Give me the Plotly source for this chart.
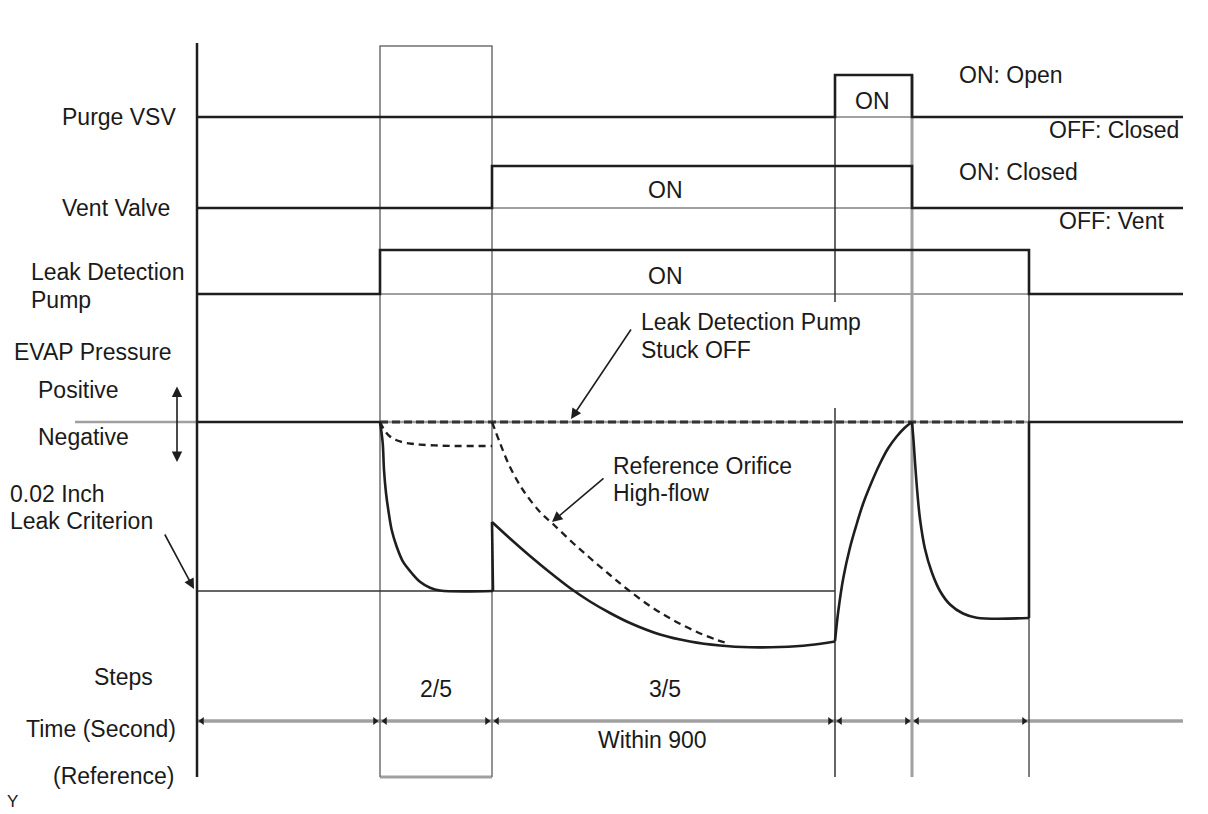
import plotly.graph_objects as go

# ---------------- data (diagram units: time along x, signal level along y) ----------------
t_marks = [197, 380, 492, 835, 912, 1029, 1183]   # start, pump on, vent on, purge on, purge off, pump off, end

purge_t = [197, 835, 835, 912, 912, 1183]
purge_state = [0, 0, 1, 1, 0, 0]
vent_t = [197, 492, 492, 912, 912, 1183]
vent_state = [0, 0, 1, 1, 0, 0]
pump_t = [197, 380, 380, 1029, 1029, 1183]
pump_state = [0, 0, 1, 1, 0, 0]

row_base = {"purge": 117, "vent": 208, "pump": 294}
row_high = {"purge": 75, "vent": 166, "pump": 250}

p_zero = 422          # EVAP pressure 0 level
p_criterion = 591     # 0.02 inch leak criterion level

# EVAP pressure, solid (normal operation)
p1_t = [380, 382.7, 384, 386, 388.3, 391.7, 396.7, 403, 411.7, 420, 430, 440, 493]
p1_v = [422, 443, 470, 493, 510, 530, 546.7, 561.7, 573, 581.7, 587.7, 590.5, 591]
p2_t = [492, 510, 530, 550, 570, 590, 610, 630, 660, 690, 720, 750, 780, 810, 835]
p2_v = [522, 538.5, 556, 572.5, 588, 601.5, 613, 623, 634.5, 641.5, 645.5, 647.3, 647, 645, 641.5]
p3_t = [835, 838.3, 843.3, 850, 856.7, 863, 871.7, 880, 888, 896.7, 905, 912]
p3_v = [641, 611, 578, 547.5, 524, 504, 482, 463.5, 448.5, 436.5, 427.5, 422]
p4_t = [912, 913.5, 915, 917.3, 920, 925, 931.7, 940, 950, 963, 976.7, 1029]
p4_v = [422, 440, 462, 492, 519, 549, 572, 591, 604.5, 613.5, 617.7, 618]

# EVAP pressure, dashed (pump stuck off / reference orifice high-flow)
d1_t = [380, 385, 390, 396, 403, 412, 420, 437, 460, 492]
d1_v = [422, 431, 436.5, 440, 442.3, 443.8, 444.6, 445.5, 446, 446]
d2_t = [492, 500, 510, 523, 540, 553, 573, 590, 610, 627, 650, 673, 697, 717, 727]
d2_v = [422, 443, 467, 490, 512, 524, 543, 558, 575, 589, 606, 620, 632, 640, 643]

step_labels = ["2/5", "3/5"]
time_label = "Within 900"

BLACK = "#1e1e1e"
GRAY = "#a0a0a0"
DARK = "#333333"
FONT = "Liberation Sans, Arial, sans-serif"

fig = go.Figure()


def line(x, y, color=BLACK, width=2.6, dash=None, shape="linear", smoothing=None):
    ln = dict(color=color, width=width, shape=shape)
    if dash:
        ln["dash"] = dash
    if smoothing is not None:
        ln["smoothing"] = smoothing
    fig.add_trace(go.Scatter(x=x, y=y, mode="lines", line=ln,
                             hoverinfo="skip", showlegend=False))


def signal(t, state, key):
    base, high = row_base[key], row_high[key]
    return [base - s * (base - high) for s in state]


# ---------- gray guide lines ----------
line([purge_t[2], purge_t[3]], [row_base["purge"]] * 2, GRAY, 2.2)
line([vent_t[2], vent_t[3]], [row_base["vent"]] * 2, GRAY, 2.2)
line([pump_t[2], pump_t[3]], [row_base["pump"]] * 2, GRAY, 2.2)
line([75, t_marks[0]], [p_zero, p_zero], GRAY, 2.4)
line([t_marks[1], t_marks[5]], [p_zero, p_zero], GRAY, 2.6)
line([t_marks[4], t_marks[4]], [row_high["purge"], 777], GRAY, 3)
line([t_marks[0], t_marks[6]], [721, 721], GRAY, 3.5)
line([t_marks[1], t_marks[2]], [777, 777], GRAY, 3)

# ---------- thin vertical frame lines ----------
line([t_marks[1], t_marks[1], t_marks[2], t_marks[2]], [777, 46, 46, 777], "#707070", 1.5)
line([t_marks[3], t_marks[3]], [row_base["purge"], 302], DARK, 1.5)
line([t_marks[3], t_marks[3]], [408, 777], DARK, 1.5)
line([t_marks[5], t_marks[5]], [row_base["pump"], 777], "#555555", 1.5)
line([t_marks[0], t_marks[3]], [p_criterion, p_criterion], DARK, 1.6)

# ---------- main axis ----------
line([t_marks[0], t_marks[0]], [43, 777], BLACK, 2.5)

# ---------- digital signals ----------
line(purge_t, signal(purge_t, purge_state, "purge"))
line(vent_t, signal(vent_t, vent_state, "vent"))
line(pump_t, signal(pump_t, pump_state, "pump"))

# ---------- EVAP pressure ----------
line([t_marks[0], t_marks[1]], [p_zero, p_zero])
line([t_marks[5], t_marks[6]], [p_zero, p_zero])
line([t_marks[1], t_marks[5]], [p_zero, p_zero], DARK, 2.8, dash="8px,4px")
line(d1_t, d1_v, BLACK, 2.4, dash="7px,5px", shape="spline", smoothing=1.0)
line(d2_t, d2_v, BLACK, 2.3, dash="7px,5px", shape="spline", smoothing=1.0)
line(p1_t, p1_v, shape="spline", smoothing=1.0)
line([p1_t[-1], p2_t[0]], [p1_v[-1], p2_v[0]])
line(p2_t, p2_v, shape="spline", smoothing=1.0)
line(p3_t, p3_v, shape="spline", smoothing=1.0)
line(p4_t, p4_v, shape="spline", smoothing=1.0)
line([p4_t[-1], p4_t[-1]], [p4_v[-1], p_zero])

# ---------- time-span arrowheads ----------
seg_l = t_marks[:5]
seg_r = t_marks[1:6]
fig.add_trace(go.Scatter(x=[a + 5 for a in seg_l], y=[721] * len(seg_l), mode="markers",
                         marker=dict(symbol="triangle-left", size=7, color=BLACK),
                         hoverinfo="skip", showlegend=False))
fig.add_trace(go.Scatter(x=[b - 5 for b in seg_r], y=[721] * len(seg_r), mode="markers",
                         marker=dict(symbol="triangle-right", size=7, color=BLACK),
                         hoverinfo="skip", showlegend=False))

# ---------- text ----------
anns = []
FS = 23


def txt(x, y, s, anchor="left", size=FS):
    anns.append(dict(x=x, y=y, text=s, showarrow=False, xanchor=anchor, yanchor="middle",
                     align="left", font=dict(family=FONT, size=size, color="#1a1a1a")))


txt(60, row_base["purge"], "Purge VSV")
txt(60, row_base["vent"], "Vent Valve")
txt(29, 272, "Leak Detection")
txt(29, 300, "Pump")
txt(12, 352, "EVAP Pressure")
txt(36, 390, "Positive")
txt(36, 437, "Negative")
txt(8, 494, "0.02 Inch")
txt(8, 521, "Leak Criterion")
txt(123, 677, "Steps", "center")
txt(178, 729, "Time (Second)", "right")
txt(176, 776, "(Reference)", "right")
txt(12, 801, "Y", "center", 17)
txt(436, 689, step_labels[0], "center")
txt(665, 689, step_labels[1], "center")
txt(652, 740, time_label, "center")
txt(872, 101, "ON", "center")
txt(665, 190, "ON", "center")
txt(665, 276, "ON", "center")
txt(957, 75, "ON: Open")
txt(1181, 130, "OFF: Closed", "right")
txt(957, 172, "ON: Closed")
txt(1166, 221, "OFF: Vent", "right")
txt(639, 322, "Leak Detection Pump")
txt(639, 350, "Stuck OFF")
txt(611, 466, "Reference Orifice")
txt(611, 493, "High-flow")


def arrow(x0, y0, x1, y1, both=False):
    anns.append(dict(x=x1, y=y1, ax=x0, ay=y0, xref="x", yref="y", axref="x", ayref="y",
                     text="", showarrow=True, arrowhead=2, arrowsize=1.3, arrowwidth=1.6,
                     arrowcolor=BLACK, arrowside="end+start" if both else "end",
                     startarrowhead=2, startarrowsize=1.3))


arrow(632, 328, 571, 419)
arrow(605, 477, 552, 522)
arrow(164, 533, 194, 589)
arrow(177, 385, 177, 462, both=True)

fig.update_layout(
    width=1208, height=814,
    margin=dict(l=0, r=0, t=0, b=0),
    paper_bgcolor="white", plot_bgcolor="white",
    xaxis=dict(range=[0, 1208], visible=False, fixedrange=True),
    yaxis=dict(range=[814, 0], visible=False, fixedrange=True),
    annotations=anns,
    showlegend=False,
)

fig.write_html("out.html", config={"displayModeBar": False},
               post_script="document.body.style.margin='0px';document.body.style.overflow='hidden';")
